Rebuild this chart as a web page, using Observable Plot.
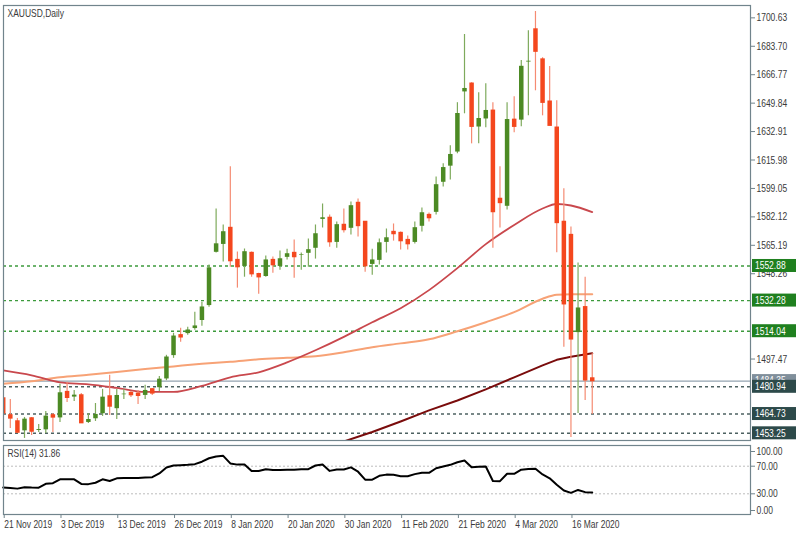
<!DOCTYPE html>
<html><head><meta charset="utf-8">
<script src="https://cdn.jsdelivr.net/npm/d3@7"></script>
<script src="https://cdn.jsdelivr.net/npm/@observablehq/plot@0.6"></script>
<style>
html,body{margin:0;padding:0;background:#fff;}
#wrap{position:relative;width:800px;height:534px;overflow:hidden;}
#main{position:absolute;left:0;top:0;}
#rsi{position:absolute;left:0;top:443px;}
</style></head><body><div id="wrap"><div id="main"></div><div id="rsi"></div></div>
<script>
// ---- data ----
const symbolTitle = "XAUUSD,Daily";
const rsiTitle = "RSI(14) 31.86";
const dates = ["2019-11-21","2019-11-22","2019-11-25","2019-11-26","2019-11-27","2019-11-28","2019-11-29",
"2019-12-02","2019-12-03","2019-12-04","2019-12-05","2019-12-06","2019-12-09","2019-12-10","2019-12-11","2019-12-12","2019-12-13",
"2019-12-16","2019-12-17","2019-12-18","2019-12-19","2019-12-20","2019-12-23","2019-12-24","2019-12-26","2019-12-27","2019-12-30","2019-12-31",
"2020-01-02","2020-01-03","2020-01-06","2020-01-07","2020-01-08","2020-01-09","2020-01-10","2020-01-13","2020-01-14","2020-01-15","2020-01-16","2020-01-17",
"2020-01-20","2020-01-21","2020-01-22","2020-01-23","2020-01-24","2020-01-27","2020-01-28","2020-01-29","2020-01-30","2020-01-31",
"2020-02-03","2020-02-04","2020-02-05","2020-02-06","2020-02-07","2020-02-10","2020-02-11","2020-02-12","2020-02-13","2020-02-14",
"2020-02-17","2020-02-18","2020-02-19","2020-02-20","2020-02-21","2020-02-24","2020-02-25","2020-02-26","2020-02-27","2020-02-28",
"2020-03-02","2020-03-03","2020-03-04","2020-03-05","2020-03-06","2020-03-09","2020-03-10","2020-03-11","2020-03-12","2020-03-13",
"2020-03-16","2020-03-17","2020-03-18","2020-03-19"];
const open = [1474.0,1463.9,1460.3,1454.3,1462.1,1454.5,1454.9,1463.9,1462.0,1477.8,1474.4,1475.8,1459.3,1461.5,1464.5,1475.2,1467.5,1475.8,1477.2,1476.8,1475.4,1479.4,1480.0,1485.2,1499.1,1511.6,1512.2,1515.2,1520.0,1528.9,1560.6,1565.3,1575.5,1556.4,1552.2,1560.6,1548.0,1546.2,1556.4,1552.2,1557.6,1560.6,1558.8,1560.0,1563.0,1580.2,1581.5,1566.5,1577.3,1574.9,1590.4,1579.1,1553.4,1555.8,1566.5,1573.1,1572.5,1568.3,1566.5,1576.1,1583.2,1584.4,1602.3,1611.9,1620.3,1656.1,1661.4,1635.2,1640.0,1645.3,1592.8,1588.0,1639.9,1639.3,1673.9,1693.7,1675.8,1650.7,1635.2,1579.1,1571.3,1512.8,1528.3,1485.9];
const high = [1475.8,1473.4,1462.1,1462.7,1462.7,1458.5,1466.3,1465.1,1482.4,1483.6,1478.8,1477.0,1465.1,1471.0,1479.4,1487.8,1479.4,1479.4,1478.2,1478.8,1481.8,1480.0,1487.1,1499.7,1512.8,1515.8,1516.4,1525.4,1531.3,1553.4,1586.8,1577.3,1611.9,1561.2,1563.0,1561.2,1548.6,1558.8,1558.2,1561.8,1562.9,1568.3,1560.6,1568.9,1577.3,1589.8,1583.2,1579.1,1586.8,1591.0,1592.8,1579.1,1562.9,1568.9,1574.9,1577.9,1573.1,1570.7,1579.1,1587.4,1584.4,1605.9,1613.7,1624.4,1650.1,1690.7,1662.0,1656.1,1661.4,1650.1,1611.9,1650.1,1653.7,1675.2,1693.0,1704.4,1676.9,1671.6,1651.3,1598.8,1576.1,1554.6,1546.2,1500.9];
const low = [1463.3,1456.1,1453.1,1450.2,1451.9,1453.7,1453.1,1453.7,1459.7,1471.6,1472.2,1459.1,1459.1,1460.3,1463.3,1463.9,1461.5,1473.4,1474.6,1470.4,1473.4,1475.8,1478.2,1484.6,1497.9,1507.5,1511.6,1514.6,1517.0,1528.3,1560.6,1555.2,1552.2,1539.7,1546.2,1546.2,1536.1,1546.2,1548.6,1550.4,1556.4,1545.6,1550.4,1552.2,1557.0,1575.5,1564.1,1563.5,1572.5,1571.3,1570.1,1549.2,1547.4,1553.4,1560.6,1567.7,1562.4,1562.4,1565.9,1573.1,1579.1,1583.2,1599.9,1604.1,1619.7,1643.5,1625.6,1625.6,1635.2,1563.5,1575.5,1586.2,1632.2,1635.8,1642.3,1657.2,1642.3,1636.4,1560.8,1504.5,1450.8,1465.1,1472.8,1464.5];
const close = [1465.1,1462.1,1453.7,1462.1,1454.3,1455.9,1463.9,1462.7,1477.8,1474.4,1476.4,1459.3,1461.9,1464.9,1475.2,1469.2,1476.2,1477.0,1476.0,1475.6,1479.2,1477.0,1485.9,1499.1,1511.6,1510.4,1515.2,1517.6,1528.9,1552.2,1566.5,1573.7,1555.8,1552.2,1561.8,1548.0,1546.2,1556.9,1553.4,1557.6,1560.6,1558.2,1560.0,1563.0,1572.5,1582.0,1567.1,1577.9,1574.3,1589.2,1576.7,1552.8,1556.9,1567.1,1570.1,1571.9,1567.7,1565.9,1576.1,1585.0,1581.4,1601.7,1611.9,1619.7,1644.1,1659.0,1635.8,1641.1,1645.9,1585.0,1590.4,1640.5,1635.8,1672.2,1675.2,1680.5,1650.1,1636.4,1578.5,1530.1,1509.2,1528.3,1484.8,1484.35];
// moving averages, sampled at bar numbers
const maBars = [0,4,8,12,16,20,24,28,32,36,40,44,48,52,56,60,64,68,72,76,78,80,83];
const maRed = [1490.7,1487.8,1483.6,1482.4,1480.3,1477.9,1477.9,1481.5,1486.6,1489.6,1495.5,1502.7,1510.7,1519.4,1527.7,1538.5,1551.6,1565.9,1577.3,1587.1,1589.8,1588.9,1585.0];
const maOrange = [1482.7,1484.2,1486.6,1488.1,1489.8,1491.6,1493.1,1494.6,1495.8,1497.3,1498.2,1499.1,1501.5,1504.5,1506.8,1509.2,1514.0,1519.4,1525.4,1533.4,1535.8,1536.1,1536.1];
const maSlowBars = [44,48,52,56,60,64,68,72,76,78,80,83];
const maSlow = [1443.0,1448.4,1454.0,1460.3,1466.9,1472.8,1479.4,1486.6,1493.7,1497.0,1498.8,1500.9];
const rsi = [39.3,38.5,37.5,39.5,39.0,38.8,44.5,45.3,51.0,51.2,51.0,44.3,44.0,46.0,51.0,48.5,52.4,52.8,52.9,53.0,53.5,54.1,59.5,68.0,71.0,71.5,72.0,73.0,76.5,81.5,84.0,85.0,74.0,72.3,72.5,63.0,63.0,65.7,64.5,64.5,64.8,65.0,65.5,65.7,71.0,72.3,63.2,65.2,65.3,68.3,62.0,50.5,50.5,56.0,57.8,57.5,55.5,55.5,58.5,60.4,60.4,67.0,69.5,72.0,75.8,78.3,68.6,69.3,69.6,48.5,48.3,59.0,59.0,65.0,65.8,66.2,58.0,52.5,43.0,34.8,31.4,35.6,32.4,31.86];
const levelsUpper = [1552.88,1532.28,1514.04];
const levelsLower = [1480.94,1464.73,1453.25];
const bidPrice = 1484.35;
const priceTicks = [1700.63,1683.70,1666.77,1649.84,1632.91,1615.98,1599.05,1582.12,1565.19,1548.26,1497.47];
const rsiLevels = [70, 30];
const tickDates = ["2019-11-21","2019-12-03","2019-12-13","2019-12-26","2020-01-08","2020-01-20","2020-01-30","2020-02-11","2020-02-21","2020-03-04","2020-03-16"];
const tickLabels = ["21 Nov 2019","3 Dec 2019","13 Dec 2019","26 Dec 2019","8 Jan 2020","20 Jan 2020","30 Jan 2020","11 Feb 2020","21 Feb 2020","4 Mar 2020","16 Mar 2020"];

// ---- build ----
const FONT = "'Liberation Sans',Arial,sans-serif";
const FS = 11;
const bars = dates.map((d, i) => ({i, date: d, o: open[i], h: high[i], l: low[i], c: close[i]}));
const ma1 = maBars.map((b, k) => ({i: b, v: maRed[k]}));
const ma2 = maBars.map((b, k) => ({i: b, v: maOrange[k]}));
const ma3 = maSlowBars.map((b, k) => ({i: b, v: maSlow[k]}));
const rsiData = rsi.map((v, i) => ({i, v}));
const tickBars = tickDates.map(d => dates.indexOf(d));

const GREEN_BODY = "#4c8a24", GREEN_WICK = "#7eaa5c", RED_BODY = "#f4471e", RED_WICK = "#f58b72";
const xDomain = [0.04, 105.3];
const FRAME = "#71848c";
const TXT = "#3a3a3a";

const main = Plot.plot({
  width: 800, height: 443,
  marginLeft: 3, marginRight: 50, marginTop: 5, marginBottom: 3,
  x: {domain: xDomain, axis: null},
  y: {domain: [1448.97, 1707.98], axis: null},
  style: {fontFamily: FONT, fontSize: FS + "px", color: TXT, background: "transparent"},
  marks: [
    Plot.ruleY(levelsUpper, {stroke: "#3c9a3c", strokeWidth: 1.4, strokeDasharray: "3,3"}),
    Plot.ruleY(levelsLower, {stroke: "#4d6161", strokeWidth: 1.4, strokeDasharray: "3,3"}),
    Plot.ruleY([bidPrice], {stroke: "#93a3b0", strokeWidth: 1.2}),
    Plot.line(ma3, {x: "i", y: "v", stroke: "#7a0c0c", strokeWidth: 2, clip: true}),
    Plot.line(ma2, {x: "i", y: "v", stroke: "#f7a276", strokeWidth: 2, curve: "monotone-x", clip: true}),
    Plot.line(ma1, {x: "i", y: "v", stroke: "#c9484d", strokeWidth: 1.8, curve: "monotone-x", clip: true}),
    Plot.ruleX(bars, {x: "i", y1: "l", y2: "h", stroke: d => d.c >= d.o ? GREEN_WICK : RED_WICK, strokeWidth: 1.2, clip: true}),
    Plot.ruleX(bars, {x: "i", y1: "o", y2: "c", stroke: d => d.c >= d.o ? GREEN_BODY : RED_BODY, strokeWidth: 4.5, insetTop: -0.7, insetBottom: -0.7, clip: true}),
    Plot.axisY({anchor: "right", label: null, ticks: priceTicks, tickFormat: d => d.toFixed(2), tickSize: 4, tickPadding: 2, stroke: FRAME, fill: TXT, fontSize: FS}),
    Plot.frame({stroke: FRAME, strokeWidth: 1.2}),
    Plot.text([symbolTitle], {frameAnchor: "top-left", dx: 4, dy: 4, fill: TXT, fontSize: FS})
  ]
});
document.getElementById("main").appendChild(main);

// price labels in boxes on the right
const yScale = main.scale("y");
const svg = d3.select(main);
const boxes = [[bidPrice, "#808f9b"], ...levelsUpper.map(v => [v, "#1f801f"]), ...levelsLower.map(v => [v, "#2d4a4a"])];
const gLab = svg.append("g").attr("font-family", FONT).attr("font-size", FS + "px").attr("text-anchor", "start");
boxes.forEach(([v, col]) => {
  const yy = yScale.apply(v);
  gLab.append("rect").attr("x", 752).attr("y", yy - 6.5).attr("width", 44).attr("height", 13).attr("fill", col);
  gLab.append("text").attr("x", 755).attr("y", yy).attr("dy", "0.35em").attr("text-anchor", "start").attr("fill", "#fff").text(v.toFixed(2));
});

const rsiPlot = Plot.plot({
  width: 800, height: 91,
  marginLeft: 3, marginRight: 50, marginTop: 2, marginBottom: 20,
  x: {domain: xDomain, axis: null},
  y: {domain: [0, 100], axis: null},
  style: {fontFamily: FONT, fontSize: FS + "px", color: TXT, background: "transparent"},
  marks: [
    Plot.ruleY(rsiLevels, {stroke: "#bdbdbd", strokeDasharray: "2,2"}),
    Plot.line(rsiData, {x: "i", y: "v", stroke: "#000", strokeWidth: 2}),
    Plot.axisY({anchor: "right", label: null, ticks: rsiLevels, tickFormat: d => d.toFixed(2), tickSize: 4, tickPadding: 2, stroke: FRAME, fill: TXT}),
    Plot.axisY({anchor: "right", label: null, ticks: [100], tickFormat: d => d.toFixed(2), tickSize: 4, tickPadding: 2, dy: 6, stroke: FRAME, fill: TXT}),
    Plot.axisY({anchor: "right", label: null, ticks: [0], tickFormat: d => d.toFixed(2), tickSize: 4, tickPadding: 2, dy: -4, stroke: FRAME, fill: TXT}),
    Plot.axisX({label: null, ticks: tickBars, tickFormat: (d) => tickLabels[tickBars.indexOf(d)], tickSize: 4, tickPadding: 2, textAnchor: "start", dx: 1, stroke: FRAME, fill: TXT}),
    Plot.frame({stroke: FRAME, strokeWidth: 1.2}),
    Plot.text([rsiTitle], {frameAnchor: "top-left", dx: 4, dy: 4, fill: TXT, fontSize: FS})
  ]
});
document.getElementById("rsi").appendChild(rsiPlot);

// narrow the lettering like the terminal font
function squeeze(node, k) {
  node.querySelectorAll("text").forEach(t => {
    const L = t.getComputedTextLength();
    if (L > 0) { t.setAttribute("textLength", (L * k).toFixed(1)); t.setAttribute("lengthAdjust", "spacingAndGlyphs"); }
  });
}
squeeze(main, 0.77);
squeeze(rsiPlot, 0.77);
</script></body></html>
